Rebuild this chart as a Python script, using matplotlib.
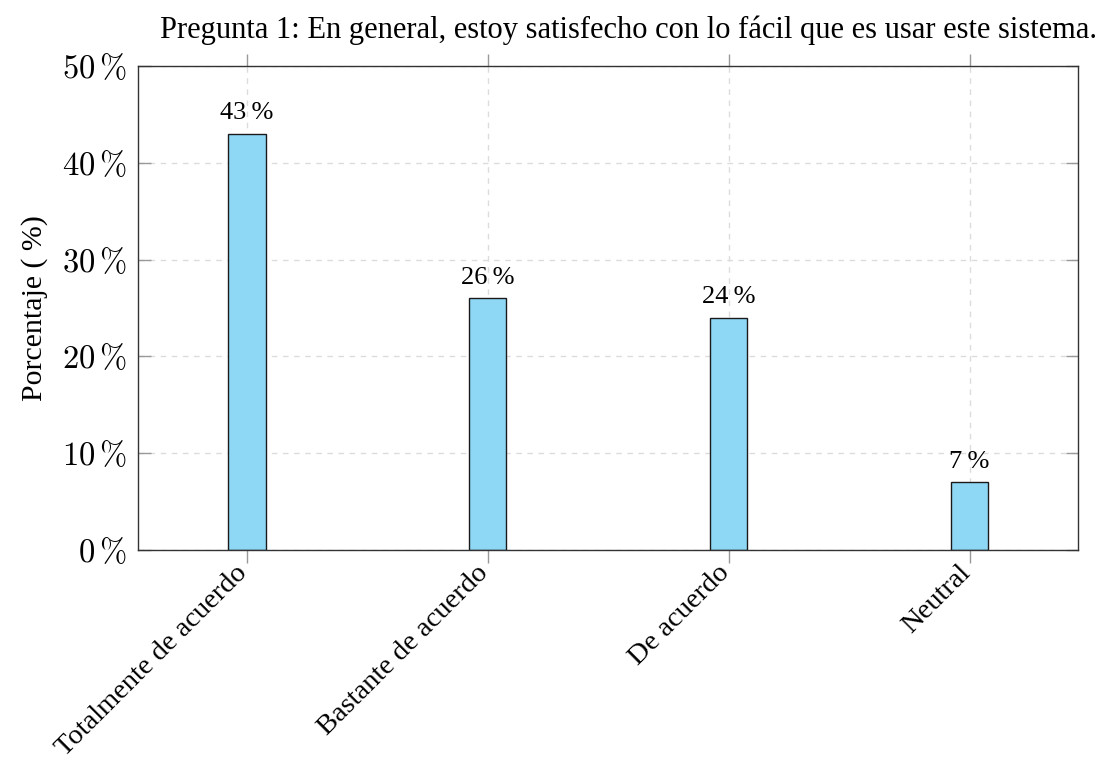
import matplotlib
matplotlib.use("Agg")
import matplotlib.pyplot as plt
from matplotlib.transforms import ScaledTranslation

plt.rcParams["mathtext.fontset"] = "cm"
plt.rcParams["font.family"] = ["Liberation Serif", "DejaVu Serif"]

categories = ["Totalmente de acuerdo", "Bastante de acuerdo", "De acuerdo", "Neutral"]
values = [43, 26, 24, 7]
y_ticks = [0, 10, 20, 30, 40, 50]
title = "Pregunta 1: En general, estoy satisfecho con lo fácil que es usar este sistema."
y_label = "Porcentaje ( %)"

W, H = 1104, 765
fig = plt.figure(figsize=(W / 100, H / 100), dpi=100)
ax = fig.add_axes([138 / W, 1 - 550 / H, 940 / W, 484 / H])

x = list(range(len(categories)))
ax.bar(x, values, width=0.155, color="#8ed8f6", edgecolor="#1a1a1a",
       linewidth=1.0, zorder=3)

for xi, v in zip(x, values):
    ax.annotate(f"{v}\u2009%", (xi, v), xytext=(0, 7), textcoords="offset points",
                ha="center", va="bottom", fontsize=19, zorder=4)

ax.set_xlim(-0.452, 3.45)
ax.set_ylim(0, 50)
ax.set_yticks(y_ticks)
ax.set_yticklabels([rf"${t}\,\%$" for t in y_ticks], fontsize=23.5)
ax.set_xticks(x)
ax.set_xticklabels(categories, rotation=45, ha="right", rotation_mode="anchor",
                   fontsize=20.5)

ax.grid(True, color="#dcdcdc", linestyle=(0, (4, 4)), linewidth=1.0, zorder=0)
ax.tick_params(axis="y", direction="in", length=9, width=1.0, color="#999999",
               left=True, right=True, pad=8)
ax.tick_params(axis="x", direction="out", length=9, width=1.0, color="#999999",
               bottom=True, top=True, pad=3)

# nudge the rotated category labels so their ends sit under the ticks
shift = ScaledTranslation(-12 / 100, 6 / 100, fig.dpi_scale_trans)
for tick in ax.xaxis.get_major_ticks():
    tick.label1.set_transform(tick.label1.get_transform() + shift)

for s in ax.spines.values():
    s.set_color("#333333")
    s.set_linewidth(1.0)
    s.set_zorder(5)

ax.set_ylabel(y_label, fontsize=21.5, labelpad=10)
fig.text(629 / W, 1 - 38 / H, title, ha="center", va="baseline", fontsize=22)

fig.savefig("out.png", dpi=100)
